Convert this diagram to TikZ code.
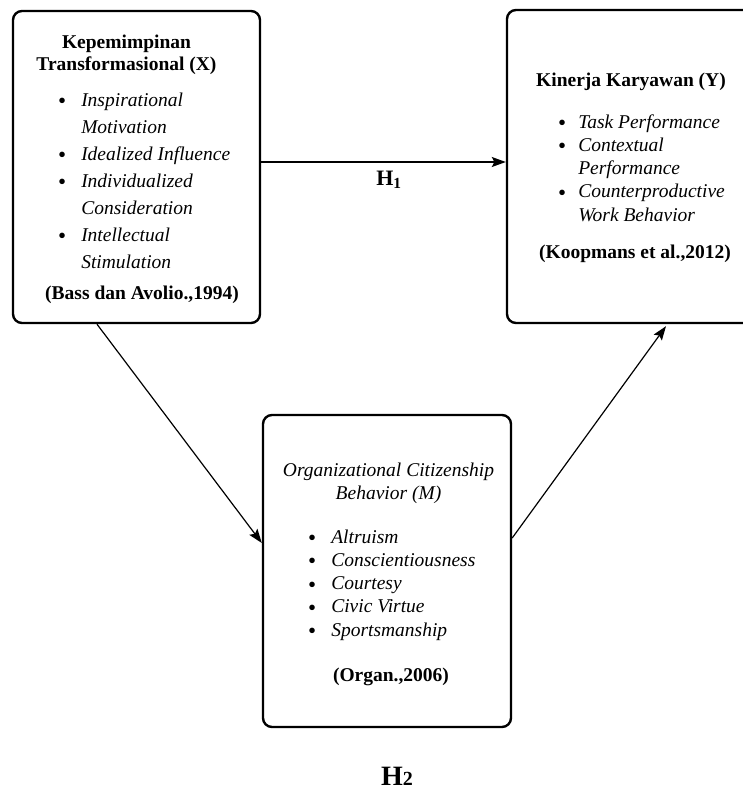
\documentclass[tikz,border=0pt]{standalone}
\usepackage{fontspec}
\setmainfont{Liberation Serif}
\usetikzlibrary{arrows.meta}

\newcommand{\bul}{\raisebox{-2.5pt}{\fontsize{23}{23}\selectfont\textbullet}}

\begin{document}
\begin{tikzpicture}[x=1pt,y=-1pt,
	box/.style={draw=black,line width=2.4pt,rounded corners=9pt,inner sep=0pt},
	head/.style={inner sep=0pt,align=center,font=\fontsize{19.5}{22}\selectfont\bfseries},
	cite/.style={inner sep=0pt,anchor=base,font=\fontsize{19.5}{22}\selectfont\bfseries},
	lst/.style={inner sep=0pt,anchor=north west},
	arr/.style={black,line width=1.2pt,-{Stealth[length=14pt,width=10pt,inset=2.5pt]}}]
	\clip (0,0) rectangle (743,790);
	\node[box,minimum width=247pt,minimum height=312pt] (kp) at (136.5,167) {};
	\node[box,minimum width=252pt,minimum height=313pt] (kk) at (633,166.5) {};
	\node[box,minimum width=248pt,minimum height=312pt] (ocb) at (387,571) {};
	\node[head,anchor=base] (kptitle) at (126.5,70) {Kepemimpinan\\Transformasional (X)};
	\node[lst] (kplist) at (58,87.1) {\fontsize{19.5}{27}\selectfont\begin{tabular}{@{}l@{\hspace{15pt}}l@{}}
		\bul & \textit{Inspirational}\\
		 & \textit{Motivation}\\
		\bul & \textit{Idealized Influence}\\
		\bul & \textit{Individualized}\\
		 & \textit{Consideration}\\
		\bul & \textit{Intellectual}\\
		 & \textit{Stimulation}
	\end{tabular}};
	\node[cite] (kpcite) at (142,299) {(Bass dan Avolio.,1994)};
	\node[head,anchor=base] (kktitle) at (631,86) {Kinerja Karyawan (Y)};
	\node[lst] (kklist) at (558,111.7) {\fontsize{19.5}{23.25}\selectfont\begin{tabular}{@{}l@{\hspace{12pt}}l@{}}
		\bul & \textit{Task Performance}\\
		\bul & \textit{Contextual}\\
		 & \textit{Performance}\\
		\bul & \textit{Counterproductive}\\
		 & \textit{Work Behavior}
	\end{tabular}};
	\node[cite] (kkcite) at (635,258) {(Koopmans et al.,2012)};
	\node[head,anchor=base,font=\fontsize{19.5}{23}\selectfont\itshape] (ocbtitle) at (388.5,499) {Organizational Citizenship\\Behavior (M)};
	\node[lst] (ocblist) at (308,526.7) {\fontsize{19.5}{23.25}\selectfont\begin{tabular}{@{}l@{\hspace{15pt}}l@{}}
		\bul & \textit{Altruism}\\
		\bul & \textit{Conscientiousness}\\
		\bul & \textit{Courtesy}\\
		\bul & \textit{Civic Virtue}\\
		\bul & \textit{Sportsmanship}
	\end{tabular}};
	\node[cite] (ocbcite) at (391,681) {(Organ.,2006)};
	\draw[arr] ([yshift=5pt]kp.east) -- ([yshift=4.5pt]kk.west);
	\node[font=\fontsize{22}{22}\selectfont\bfseries] (h1) at (389,180) {H\textsubscript{1}};
	\draw[arr] ([xshift=-39.5pt]kp.south) -- ([yshift=28pt]ocb.west);
	\draw[arr] ([yshift=33pt]ocb.east) -- ([xshift=33pt,yshift=-2pt]kk.south);
	\node[font=\fontsize{28}{28}\selectfont\bfseries] (h2) at (397,776) {H{\fontsize{20}{20}\selectfont 2}};
\end{tikzpicture}
\end{document}
